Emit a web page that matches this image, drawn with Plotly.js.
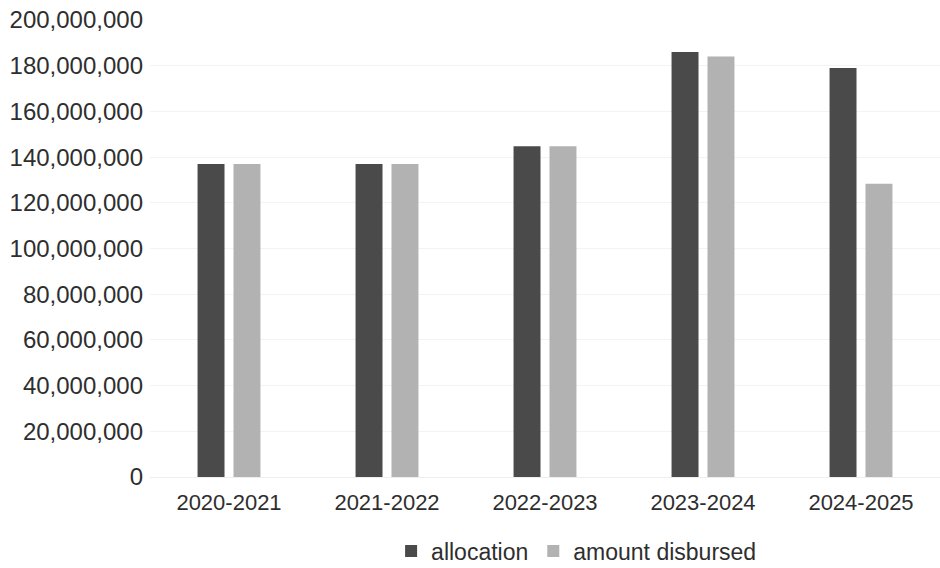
<!DOCTYPE html>
<html>
<head>
<meta charset="utf-8">
<script src="https://cdn.plot.ly/plotly-3.0.1.min.js"></script>
<style>html,body{margin:0;padding:0;background:#fff;}#chart{width:940px;height:568px;}</style>
</head>
<body>
<div id="chart"></div>
<script>
const years = ["2020-2021", "2021-2022", "2022-2023", "2023-2024", "2024-2025"];
const allocation = [137000000, 137000000, 144800000, 186000000, 179000000];
const amountDisbursed = [137000000, 137000000, 144800000, 184000000, 128300000];
const tickValues = [0, 20000000, 40000000, 60000000, 80000000, 100000000, 120000000, 140000000, 160000000, 180000000, 200000000];
const tickLabels = ["0", "20,000,000", "40,000,000", "60,000,000", "80,000,000", "100,000,000", "120,000,000", "140,000,000", "160,000,000", "180,000,000", "200,000,000"];

const font = "Liberation Sans, Arial, sans-serif";
const data = [
  {type: "bar", name: "allocation", x: years, y: allocation, marker: {color: "#4a4a4a"}},
  {type: "bar", name: "amount disbursed", x: years, y: amountDisbursed, marker: {color: "#b2b2b2"}}
];
const layout = {
  width: 940, height: 568,
  margin: {l: 150, r: 0, t: 20, b: 91, autoexpand: false},
  paper_bgcolor: "#ffffff", plot_bgcolor: "#ffffff",
  barmode: "group", bargap: 0.545, bargroupgap: 0.25,
  font: {family: font, color: "#2e2e2e"},
  xaxis: {
    showgrid: false, showline: false, zeroline: false, ticks: "", automargin: false,
    tickfont: {size: 22, color: "#2e2e2e"}, ticklabelstandoff: 10, fixedrange: true
  },
  yaxis: {
    range: [0, 200000000], tickvals: tickValues, ticktext: tickLabels, automargin: false,
    showgrid: true, gridcolor: "#f3f3f3", gridwidth: 1,
    zeroline: true, zerolinecolor: "#eeeeee", showline: false, ticks: "",
    tickfont: {size: 24, color: "#2e2e2e"}, ticklabelstandoff: 6
  },
  showlegend: true,
  legend: {
    orientation: "h", x: 0.54, xanchor: "center", y: -0.162, yanchor: "middle",
    font: {size: 23, color: "#2e2e2e"}, itemwidth: 30, traceorder: "normal"
  }
};
Plotly.newPlot("chart", data, layout, {displayModeBar: false, staticPlot: true});
</script>
</body>
</html>
